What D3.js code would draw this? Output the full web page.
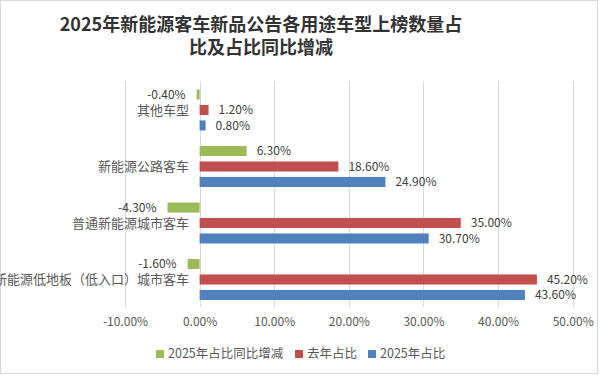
<!DOCTYPE html>
<html lang="zh">
<head>
<meta charset="UTF-8">
<title>新能源客车新品公告</title>
<script src="https://d3js.org/d3.v7.min.js"></script>
<style>
  body { margin: 0; background: #fff; }
  svg { font-family: "Noto Sans CJK SC", "Noto Sans", sans-serif; }
</style>
</head>
<body>
<div id="chart"></div>
<script>
    var width = 600, height = 376;

    // categories top to bottom
    const categories = ["其他车型", "新能源公路客车", "普通新能源城市客车", "新能源低地板（低入口）城市客车"];
    const seriesNames = ["2025年占比同比增减", "去年占比", "2025年占比"];
    const change2025 = [-0.4, 6.3, -4.3, -1.6];
    const lastYear = [1.2, 18.6, 35.0, 45.2];
    const share2025 = [0.8, 24.9, 30.7, 43.6];
    const xTicks = [-10, 0, 10, 20, 30, 40, 50];
    const colors = ["#9BBB59", "#C0504D", "#4F81BD"];

    const seriesValues = [change2025, lastYear, share2025];

    const svg = d3.select("#chart").append("svg")
        .attr("width", width)
        .attr("height", height);

    // outer border
    svg.append("rect")
        .attr("x", 0.5).attr("y", 0.5)
        .attr("width", 597).attr("height", 373)
        .attr("fill", "#fff").attr("stroke", "#d9d9d9");

    // title
    const title = svg.append("text")
        .attr("text-anchor", "middle")
        .attr("font-size", 18).attr("font-weight", "bold")
        .attr("fill", "#333");
    title.append("tspan").attr("x", 261).attr("y", 31).text("2025年新能源客车新品公告各用途车型上榜数量占");
    title.append("tspan").attr("x", 261).attr("y", 54).text("比及占比同比增减");

    let x = d3.scaleLinear().domain([-10, 50]).range([125, 572.7]);
    let y = d3.scaleBand().domain(categories).range([81, 307]);
    let ySub = d3.scaleBand().domain(seriesNames).range([8.5, 49.5]).paddingInner(0.35);

    // grid
    svg.append("g").selectAll("line")
        .data(xTicks)
        .join("line")
        .attr("x1", d => Math.round(x(d)) + 0.5)
        .attr("x2", d => Math.round(x(d)) + 0.5)
        .attr("y1", 81).attr("y2", 307)
        .attr("stroke", "#d9d9d9");

    // x axis labels
    const xAxis = d3.axisBottom(x).tickValues(xTicks)
        .tickFormat(d => d.toFixed(2) + "%").tickSize(0).tickPadding(10);
    const gx = svg.append("g").attr("transform", "translate(0,307)").call(xAxis);
    gx.select(".domain").remove();
    gx.selectAll("text").attr("font-size", 12).attr("fill", "#595959")
        .attr("font-family", "\"Noto Sans CJK SC\", sans-serif");

    // category labels
    svg.append("g").selectAll("text")
        .data(categories)
        .join("text")
        .attr("x", 189)
        .attr("y", d => y(d) + y.bandwidth() / 2 + 1)
        .attr("dy", "0.35em")
        .attr("text-anchor", "end")
        .attr("font-size", 13)
        .attr("fill", "#595959")
        .text(d => d);

    // bars
    const rows = [];
    seriesNames.forEach((s, si) => {
        categories.forEach((c, ci) => {
            rows.push({ series: s, si: si, cat: c, value: seriesValues[si][ci] });
        });
    });

    svg.append("g").selectAll("rect")
        .data(rows)
        .join("rect")
        .attr("x", d => x(Math.min(0, d.value)))
        .attr("y", d => y(d.cat) + ySub(d.series))
        .attr("width", d => Math.abs(x(d.value) - x(0)))
        .attr("height", ySub.bandwidth())
        .attr("fill", d => colors[d.si]);

    svg.append("g").selectAll("text")
        .data(rows)
        .join("text")
        .attr("x", d => d.value < 0 ? x(d.value) - 11 : x(d.value) + 10)
        .attr("y", d => y(d.cat) + ySub(d.series) + ySub.bandwidth() / 2)
        .attr("dy", "0.35em")
        .attr("text-anchor", d => d.value < 0 ? "end" : "start")
        .attr("font-size", 12)
        .attr("fill", "#404040")
        .text(d => d.value.toFixed(2) + "%");

    // legend
    const legendX = [156, 295, 368];
    const legend = svg.append("g").selectAll("g")
        .data(seriesNames)
        .join("g")
        .attr("transform", (d, i) => `translate(${legendX[i]},354)`);
    legend.append("rect")
        .attr("x", 0).attr("y", -4)
        .attr("width", 8).attr("height", 8)
        .attr("fill", (d, i) => colors[i]);
    legend.append("text")
        .attr("x", 12).attr("dy", "0.35em")
        .attr("font-size", 12.5)
        .attr("fill", "#595959")
        .text(d => d);
</script>
</body>
</html>
